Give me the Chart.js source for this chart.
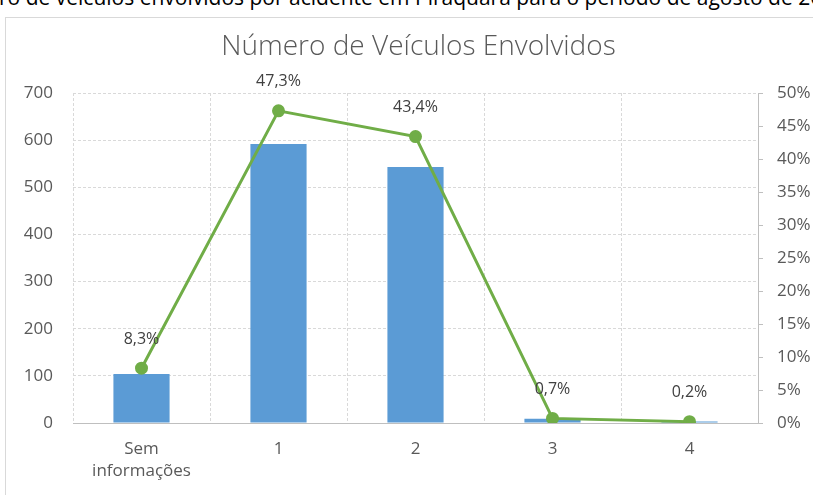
<!DOCTYPE html>
<html>
<head>
<meta charset="utf-8">
<script src="https://cdn.jsdelivr.net/npm/chart.js@4/dist/chart.umd.min.js"></script>
<style>
  html, body { margin: 0; padding: 0; background: #fff; overflow: hidden; }
  body { width: 813px; height: 495px; position: relative; }
  #caption {
    position: absolute; left: -1px; top: -13px; white-space: nowrap;
    font: 21px "Open Sans", "Noto Sans", sans-serif; color: #000; line-height: 21px;
  }
  #frame {
    position: absolute; left: 5px; top: 17px; width: 900px; height: 600px;
    border: 1px solid #d9d9d9; box-sizing: border-box;
  }
  #wrap { position: absolute; left: 0; top: 0; width: 813px; height: 495px; }
</style>
</head>
<body>
<div id="caption">ro de veículos envolvidos por acidente em Piraquara para o período de agosto de 2017</div>
<div id="frame"></div>
<div id="wrap"><canvas id="c" width="813" height="495"></canvas></div>
<script>
// Categories: number of vehicles involved per accident
const categories = [['Sem', 'informações'], '1', '2', '3', '4'];
// Number of accidents in each category
const vehicleCounts = [104, 592, 543, 9, 3];
// Share of accidents in each category (%)
const sharePercent = [8.3, 47.3, 43.4, 0.7, 0.2];
// Axis ranges
const countAxisMax = 700, countAxisStep = 100;
const shareAxisMax = 50, shareAxisStep = 5;

const FONT = '"Open Sans", "Noto Sans", sans-serif';
const fmtPct = v => v.toFixed(1).replace('.', ',') + '%';

// Writes each percentage above its point on the line
const pointLabels = {
  id: 'pointLabels',
  afterDatasetsDraw(chart) {
    const ctx = chart.ctx;
    const meta = chart.getDatasetMeta(1);
    ctx.save();
    ctx.font = '16px ' + FONT;
    ctx.fillStyle = '#404040';
    ctx.textAlign = 'center';
    ctx.textBaseline = 'middle';
    meta.data.forEach((pt, i) => {
      ctx.fillText(fmtPct(sharePercent[i]), pt.x, pt.y - 29);
    });
    ctx.restore();
  }
};

Chart.defaults.font.family = FONT;
Chart.defaults.font.size = 16;
Chart.defaults.color = '#595959';

new Chart(document.getElementById('c'), {
  data: {
    labels: categories,
    datasets: [
      {
        type: 'bar',
        label: 'Veículos',
        data: vehicleCounts,
        backgroundColor: '#5b9bd5',
        yAxisID: 'y',
        categoryPercentage: 1,
        barPercentage: 0.41,
        order: 2
      },
      {
        type: 'line',
        label: '%',
        data: sharePercent,
        borderColor: '#70ad47',
        backgroundColor: '#70ad47',
        borderWidth: 3,
        pointRadius: 5,
        pointHoverRadius: 5,
        tension: 0,
        yAxisID: 'y1',
        order: 1
      }
    ]
  },
  options: {
    responsive: false,
    animation: false,
    events: [],
    layout: { padding: { top: 17, left: 24, right: 0, bottom: 0 } },
    plugins: {
      legend: { display: false },
      tooltip: { enabled: false },
      title: {
        display: true,
        text: 'Número de Veículos Envolvidos',
        color: '#595959',
        font: { size: 28, weight: 300, lineHeight: 1.2 },
        padding: { top: 13, bottom: 29.4 }
      }
    },
    scales: {
      x: {
        offset: true,
        grid: { offset: true, color: '#d9d9d9', drawTicks: false },
        border: { display: true, color: '#bfbfbf', dash: [3, 2] },
        ticks: { padding: 15, color: '#595959', font: { size: 17, lineHeight: 1.3 } },
        afterFit(scale) { scale.height = 72; }
      },
      y: {
        position: 'left',
        min: 0, max: countAxisMax,
        ticks: { stepSize: countAxisStep, padding: 20, color: '#595959', font: { size: 17 } },
        grid: { color: '#d9d9d9', drawTicks: false },
        border: { display: false, dash: [3, 2] },
        afterFit(scale) { scale.width = 49; }
      },
      y1: {
        position: 'right',
        min: 0, max: shareAxisMax,
        ticks: { stepSize: shareAxisStep, padding: 14, color: '#595959', font: { size: 17 }, callback: v => v + '%' },
        grid: { drawOnChartArea: false, drawTicks: true, tickLength: 5, color: '#bfbfbf' },
        border: { display: true, color: '#bfbfbf' },
        afterFit(scale) { scale.width = 55; }
      }
    }
  },
  plugins: [pointLabels]
});
</script>
</body>
</html>
